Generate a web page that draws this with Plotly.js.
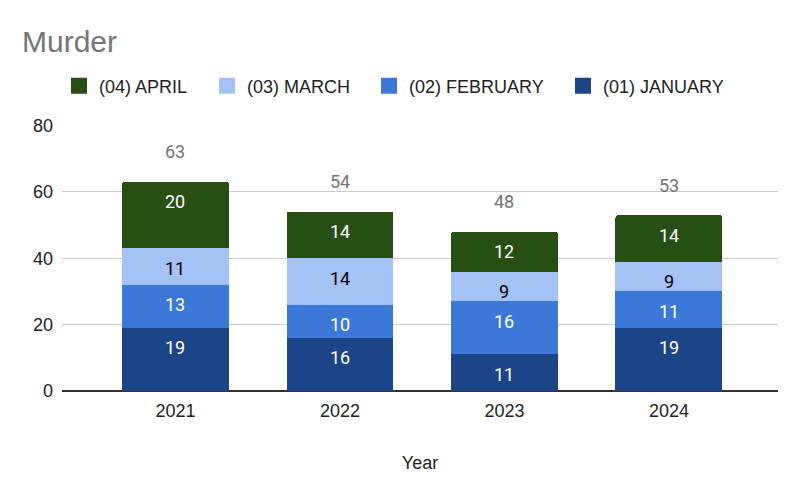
<!DOCTYPE html>
<html>
<head>
<meta charset="utf-8">
<script src="https://cdn.plot.ly/plotly-3.0.1.min.js"></script>
<style>html,body{margin:0;padding:0;background:#fff;}#chart{width:800px;height:479px;}</style>
</head>
<body>
<div id="chart"></div>
<script>
const years = ["2021", "2022", "2023", "2024"];
const january = [19, 16, 11, 19];
const february = [13, 10, 16, 11];
const march = [11, 14, 9, 9];
const april = [20, 14, 12, 14];
const seriesNames = ["(01) JANUARY", "(02) FEBRUARY", "(03) MARCH", "(04) APRIL"];
const seriesColors = ["#1c4587", "#3c78d8", "#a4c2f4", "#274e13"];
const textColors = ["#ffffff", "#ffffff", "#000000", "#ffffff"];
const yTicks = [0, 20, 40, 60, 80];

const series = [january, february, march, april];
const legendIds = ["legend4", "legend3", "legend2", "legend"];
const legendX = [575, 381, 219, 71];

const traces = series.map((vals, i) => ({
  type: "bar",
  x: years,
  y: vals,
  name: seriesNames[i],
  marker: {color: seriesColors[i], line: {width: 0}},
  showlegend: false,
  hoverinfo: "skip"
}));
// legend-only entries (square swatches)
series.forEach((vals, i) => {
  traces.push({
    type: "scatter", mode: "markers",
    x: [null], y: [null],
    name: seriesNames[i],
    legend: legendIds[i],
    marker: {symbol: "square", size: 18, color: seriesColors[i]},
    showlegend: true, hoverinfo: "skip"
  });
});

const annotations = [];
const cum = years.map(() => 0);
series.forEach((vals, i) => {
  vals.forEach((v, j) => {
    cum[j] += v;
    annotations.push({
      x: j, y: cum[j], xref: "x", yref: "y",
      text: String(v), showarrow: false, yshift: -20,
      font: {family: "Roboto, Arial, sans-serif", size: 18, color: textColors[i]}
    });
  });
});
cum.forEach((t, j) => {
  annotations.push({
    x: j, y: t, xref: "x", yref: "y",
    text: String(t), showarrow: false, yshift: 30,
    font: {family: "Roboto, Arial, sans-serif", size: 18, color: "#757575"}
  });
});

const legendFont = {family: "Liberation Sans, Arial, sans-serif", size: 18, color: "#222222"};
const layout = {
  width: 800, height: 479,
  margin: {l: 62, r: 22, t: 125, b: 88, pad: 0},
  paper_bgcolor: "#ffffff", plot_bgcolor: "#ffffff",
  barmode: "stack",
  bargap: 0.35,
  barcornerradius: 3,
  font: {family: "Liberation Sans, Arial, sans-serif", size: 18, color: "#222222"},
  title: {
    text: "Murder", x: 22/800, xref: "container", xanchor: "left",
    y: 1 - 41/479, yref: "container", yanchor: "middle",
    font: {family: "Liberation Sans, Arial, sans-serif", size: 30, color: "#757575"}
  },
  showlegend: true,
  xaxis: {
    type: "category",
    range: [-0.69, 3.663],
    showgrid: false, zeroline: false, showline: false,
    ticks: "", tickfont: {size: 18, color: "#222222"},
    ticklabelstandoff: 7,
    title: {text: "Year", font: {size: 18, color: "#222222"}, standoff: 36}
  },
  yaxis: {
    range: [0, 80.15],
    tickvals: yTicks, ticktext: yTicks.map(String),
    showgrid: true, gridcolor: "#cccccc", gridwidth: 1,
    zeroline: true, zerolinecolor: "#333333", zerolinewidth: 1.5,
    showline: false, ticks: "",
    tickfont: {size: 18, color: "#222222"},
    ticklabelstandoff: 8
  },
  annotations: annotations
};
legendIds.forEach((id, i) => {
  layout[id] = {
    orientation: "h",
    x: (legendX[i] - 62 - 12) / 716, xref: "paper", xanchor: "left",
    y: 1 + 39/266, yanchor: "middle",
    font: legendFont, itemsizing: "trace",
    itemclick: false, itemdoubleclick: false,
    bgcolor: "rgba(0,0,0,0)"
  };
});

Plotly.newPlot("chart", traces, layout, {displayModeBar: false, staticPlot: true});
</script>
</body>
</html>
